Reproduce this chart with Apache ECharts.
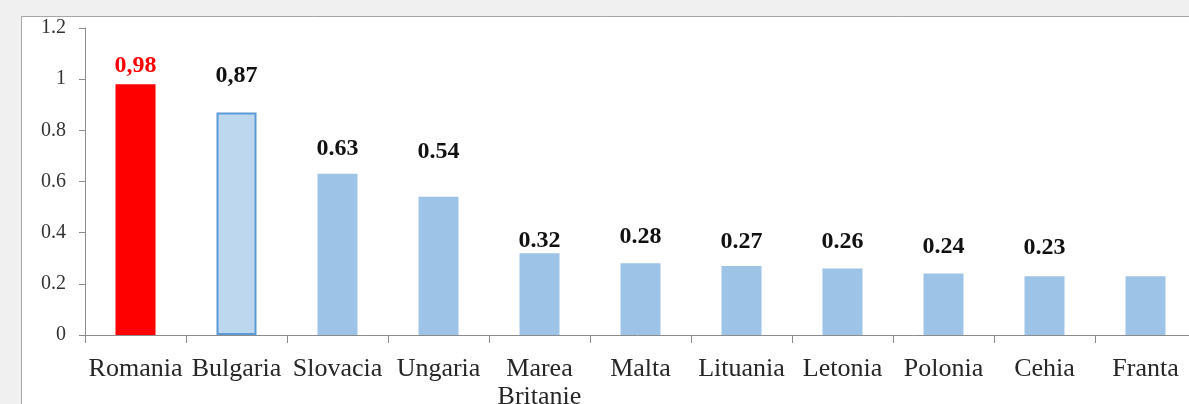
<!DOCTYPE html>
<html>
<head>
<meta charset="utf-8">
<script src="https://cdn.jsdelivr.net/npm/echarts@6/dist/echarts.min.js"></script>
<style>
  html, body { margin: 0; padding: 0; background: #f0f0f0; }
  #chart { width: 1189px; height: 404px; }
</style>
</head>
<body>
<div id="chart"></div>
<script>
// date
const categories = ["Romania", "Bulgaria", "Slovacia", "Ungaria", "Marea\nBritanie", "Malta", "Lituania", "Letonia", "Polonia", "Cehia", "Franta"];
const values = [0.98, 0.87, 0.63, 0.54, 0.32, 0.28, 0.27, 0.26, 0.24, 0.23, 0.23];
const labelTexts = ["0,98", "0,87", "0.63", "0.54", "0.32", "0.28", "0.27", "0.26", "0.24", "0.23", ""];
const yTicks = [0, 0.2, 0.4, 0.6, 0.8, 1, 1.2];

// distanta eticheta - bara (px), doar stil
const labelGap = [6, 25, 13, 33, 0, 15, 12, 15, 15, 16, 0];

const serif = "Liberation Serif";

const Chart = echarts.init(document.getElementById("chart"));

const seriesData = values.map((v, i) => {
  const item = {
    value: v,
    itemStyle: { color: "#9dc3e6" },
    label: {
      show: labelTexts[i] !== "",
      position: "top",
      distance: labelGap[i],
      formatter: labelTexts[i],
      fontFamily: serif,
      fontWeight: "bold",
      fontSize: 24,
      lineHeight: 24,
      color: "#111"
    }
  };
  if (i === 0) {
    item.itemStyle = { color: "#ff0000" };
    item.label.color = "#ff0000";
  }
  if (i === 1) {
    item.itemStyle = { color: "#bdd7ee", borderColor: "#5b9bd5", borderWidth: 2 };
  }
  return item;
});

Chart.setOption({
  animation: false,
  backgroundColor: "#f0f0f0",
  graphic: [
    {
      type: "rect",
      z: -10,
      silent: true,
      shape: { x: 21.5, y: 16.5, width: 1200, height: 420 },
      style: { fill: "#ffffff", stroke: "#a6a6a6", lineWidth: 1 }
    }
  ],
  grid: {
    left: 85,
    top: 28,
    width: 1111,
    height: 307,
    containLabel: false,
    outerBoundsMode: "none"
  },
  xAxis: {
    type: "category",
    data: categories,
    axisLine: { lineStyle: { color: "#8c8c8c" } },
    axisTick: { show: true, length: 8, lineStyle: { color: "#8c8c8c" } },
    axisLabel: {
      interval: 0,
      margin: 20,
      fontFamily: serif,
      fontSize: 26,
      lineHeight: 28,
      color: "#262626"
    }
  },
  yAxis: {
    type: "value",
    min: 0,
    max: 1.2,
    interval: 0.2,
    splitLine: { show: false },
    axisLine: { show: true, lineStyle: { color: "#8c8c8c" } },
    axisTick: { show: true, length: 6, lineStyle: { color: "#8c8c8c" } },
    axisLabel: {
      margin: 19,
      fontFamily: serif,
      fontSize: 20,
      color: "#333",
      formatter: v => {
        const t = yTicks.find(x => Math.abs(x - v) < 1e-6);
        return t === undefined ? "" : String(t);
      }
    }
  },
  series: [
    {
      type: "bar",
      barWidth: 40,
      data: seriesData
    }
  ]
});
</script>
</body>
</html>
